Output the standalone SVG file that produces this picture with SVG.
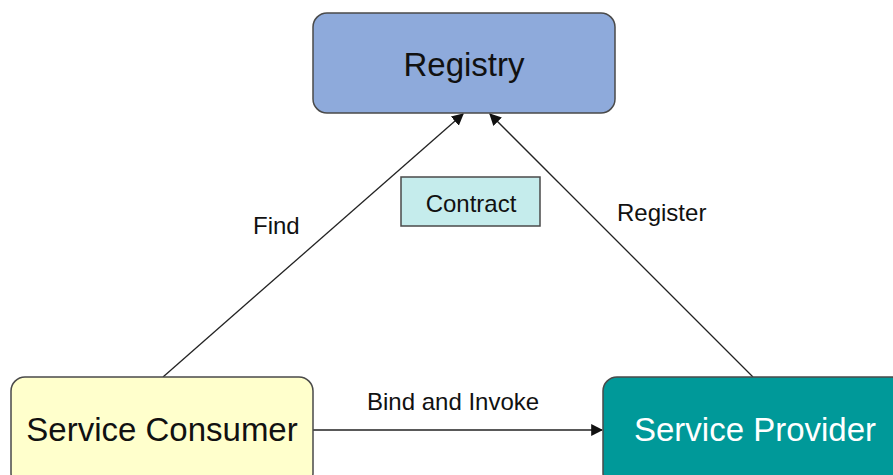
<svg xmlns="http://www.w3.org/2000/svg" width="893" height="475" viewBox="0 0 893 475">
<style>
.box{stroke:#4a4a4a;stroke-width:1.5}
.lbl{font-family:"Liberation Sans",Arial,sans-serif;fill:#111}
.big{font-size:33px}
.sm{font-size:24px}
.edge{stroke:#222;stroke-width:1.3;fill:none;marker-end:url(#ah)}
</style>
<defs>
<marker id="ah" viewBox="0 0 10 10" refX="9" refY="5" markerWidth="12" markerHeight="12" markerUnits="userSpaceOnUse" orient="auto">
<path d="M0,0 L10,5 L0,10 z" fill="#111"/>
</marker>
</defs>
<rect width="893" height="475" fill="#fff"/>
<g id="connectors">
<line class="edge" x1="163" y1="377" x2="463" y2="114"/>
<line class="edge" x1="753" y1="377" x2="490" y2="114"/>
<line class="edge" x1="313" y1="430" x2="602" y2="430"/>
<text class="lbl sm" x="253" y="234">Find</text>
<text class="lbl sm" x="617" y="221">Register</text>
<text class="lbl sm" x="367" y="410">Bind and Invoke</text>
</g>
<g id="registry">
<rect class="box" x="313" y="13" width="302" height="100" rx="14" fill="#8eaadb"/>
<text class="lbl big" x="464" y="76" text-anchor="middle">Registry</text>
</g>
<g id="contract">
<rect class="box" x="401" y="177" width="139" height="49" fill="#c5ecec"/>
<text class="lbl sm" x="471" y="212" text-anchor="middle">Contract</text>
</g>
<g id="consumer">
<rect class="box" x="11" y="377" width="302" height="110" rx="14" fill="#ffffcc"/>
<text class="lbl big" x="162" y="441" text-anchor="middle">Service Consumer</text>
</g>
<g id="provider">
<rect class="box" x="603" y="377" width="302" height="110" rx="14" fill="#009999"/>
<text class="lbl big" x="755" y="441" text-anchor="middle" style="fill:#fff">Service Provider</text>
</g>
</svg>
